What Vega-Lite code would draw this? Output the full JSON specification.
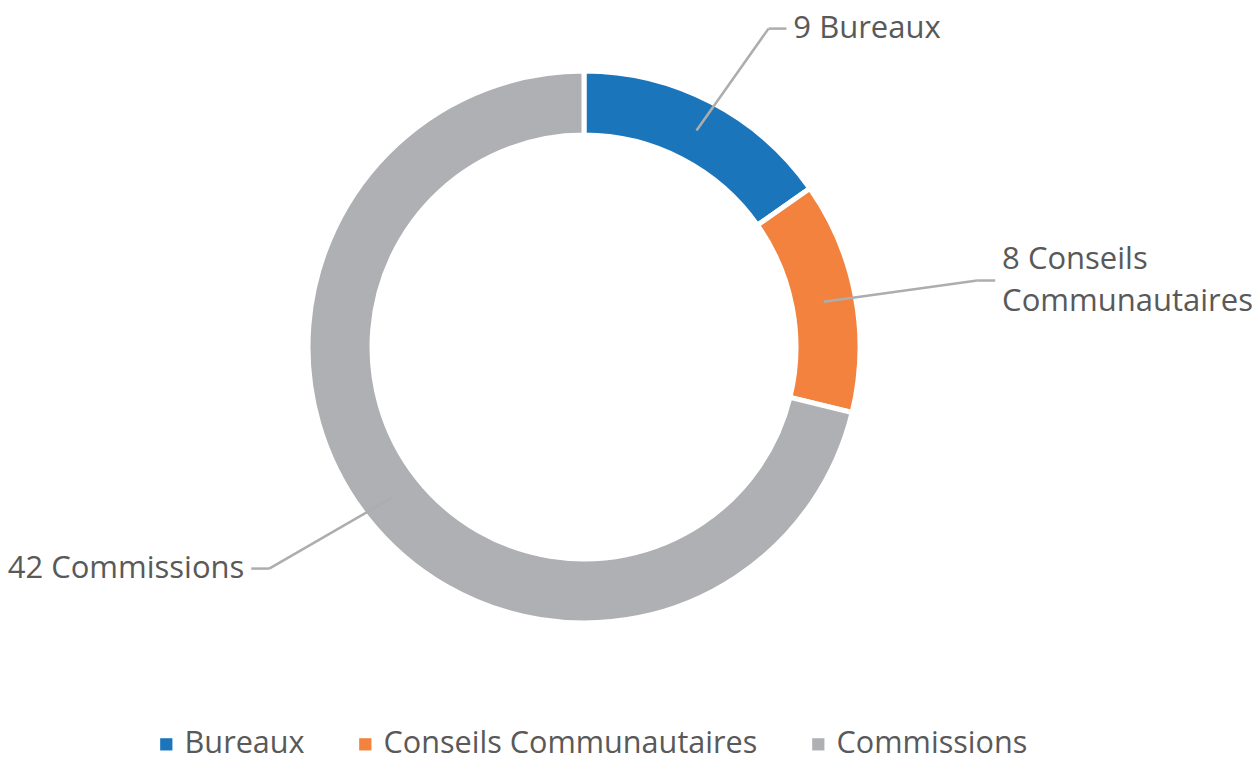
{
  "$schema": "https://vega.github.io/schema/vega-lite/v6.json",
  "width": 1168,
  "height": 694,
  "autosize": {"type": "none"},
  "padding": {"left": 0, "top": 0, "right": 86, "bottom": 68},
  "background": "white",
  "config": {
    "view": {"stroke": null},
    "font": "Open Sans",
    "legend": {"labelFont": "Open Sans"}
  },
  "data": {
    "values": [
      {"category": "Bureaux", "value": 9, "rank": 1},
      {"category": "Conseils Communautaires", "value": 8, "rank": 2},
      {"category": "Commissions", "value": 42, "rank": 3}
    ]
  },
  "transform": [
    {"joinaggregate": [{"op": "sum", "field": "value", "as": "total"}]},
    {"window": [{"op": "sum", "field": "value", "as": "cum"}], "sort": [{"field": "rank"}], "frame": [null, 0]},
    {"calculate": "2*PI*(datum.cum - datum.value/2)/datum.total", "as": "mid"},
    {"calculate": "sin(datum.mid) >= 0 ? 1 : -1", "as": "side"},
    {"calculate": "0.884*sin(datum.mid)", "as": "x0"},
    {"calculate": "0.884*cos(datum.mid)", "as": "y0"},
    {"calculate": "1.45*sin(datum.mid)", "as": "x1"},
    {"calculate": "1.3*cos(datum.mid)", "as": "y1"},
    {"calculate": "datum.x1 + datum.side*0.065", "as": "x2"},
    {"calculate": "datum.x2 + datum.side*0.025", "as": "xl"},
    {"calculate": "datum.value + ' ' + replace(datum.category, ' ', '\\n')", "as": "label"}
  ],
  "layer": [
    {
      "mark": {"type": "arc", "outerRadius": 276, "innerRadius": 212, "stroke": "white", "strokeWidth": 5},
      "encoding": {
        "theta": {"field": "value", "type": "quantitative", "stack": true},
        "order": {"field": "rank", "type": "quantitative"},
        "color": {
          "field": "category",
          "type": "nominal",
          "scale": {
            "domain": ["Bureaux", "Conseils Communautaires", "Commissions"],
            "range": ["#1B75BB", "#F3823F", "#AFB0B3"]
          },
          "legend": {
            "title": null,
            "orient": "none",
            "direction": "horizontal",
            "legendX": 151,
            "legendY": 729,
            "symbolType": "square",
            "symbolSize": 150,
            "symbolStrokeWidth": 0,
            "labelFontSize": 30.6,
            "labelColor": "#595959",
            "labelLimit": 0,
            "labelOffset": 3,
            "columnPadding": 45
          }
        }
      }
    },
    {
      "mark": {"type": "rule", "color": "#ADADAD", "strokeWidth": 2.5},
      "encoding": {
        "x": {"field": "x0", "type": "quantitative", "scale": {"domain": [-2.1159, 2.1159], "nice": false, "zero": false}, "axis": null},
        "y": {"field": "y0", "type": "quantitative", "scale": {"domain": [-1.2572, 1.2572], "nice": false, "zero": false}, "axis": null},
        "x2": {"field": "x1"},
        "y2": {"field": "y1"}
      }
    },
    {
      "mark": {"type": "rule", "color": "#ADADAD", "strokeWidth": 2.5},
      "encoding": {
        "x": {"field": "x1", "type": "quantitative"},
        "y": {"field": "y1", "type": "quantitative"},
        "x2": {"field": "x2"}
      }
    },
    {
      "mark": {
        "type": "text",
        "font": "Open Sans",
        "fontSize": 31,
        "color": "#595959",
        "baseline": "middle",
        "lineBreak": "\n",
        "lineHeight": 42,
        "align": {"expr": "datum.side > 0 ? 'left' : 'right'"},
        "dy": {"expr": "-21 * (length(split(datum.label, '\\n')) - 1)"}
      },
      "encoding": {
        "x": {"field": "xl", "type": "quantitative"},
        "y": {"field": "y1", "type": "quantitative"},
        "text": {"field": "label"}
      }
    }
  ]
}
